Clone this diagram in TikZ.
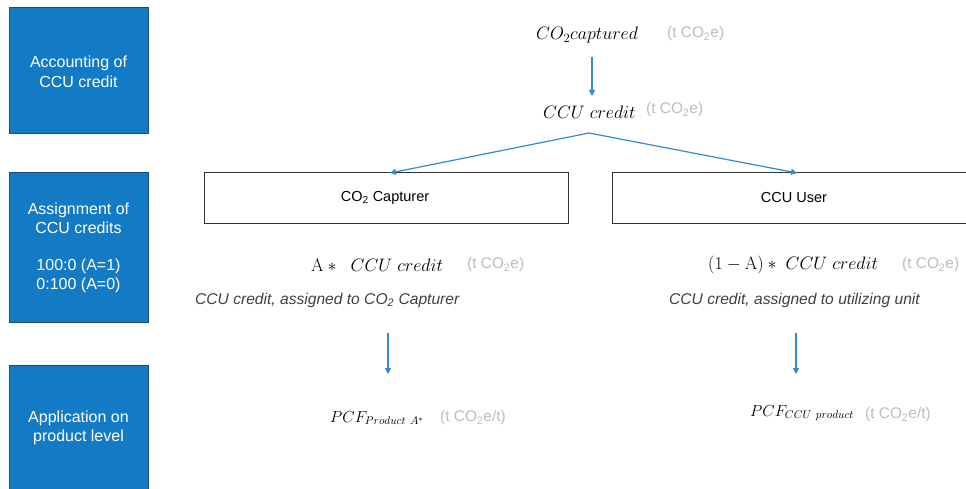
\RequirePackage{fix-cm}
\documentclass[tikz,border=0pt]{standalone}
\usepackage[no-math]{fontspec}
\setmainfont{Liberation Sans}
\usetikzlibrary{arrows.meta}
\definecolor{sideblue}{HTML}{137AC5}
\definecolor{sideedge}{HTML}{1D4D78}
\definecolor{arrowblue}{HTML}{3489D2}
\definecolor{unitgrey}{HTML}{BDBDBD}
\definecolor{notegrey}{HTML}{404040}
\tikzset{
  sidebox/.style={draw=sideedge, line width=1pt, fill=sideblue},
  sidetext/.style={text=white, align=center, font=\fontsize{16}{19.5}\selectfont},
  rolebox/.style={draw=black!80, line width=1pt, fill=white},
  roletext/.style={font=\fontsize{14.5}{17}\selectfont},
  mathlbl/.style={inner sep=0pt, anchor=west, font=\fontsize{18}{20}\selectfont},
  pcflbl/.style={inner sep=0pt, anchor=west, font=\fontsize{16}{18}\selectfont},
  unitlbl/.style={inner sep=0pt, anchor=west, text=unitgrey, font=\fontsize{15.4}{17}\selectfont},
  notelbl/.style={inner sep=0pt, anchor=west, text=notegrey, font=\fontsize{15.6}{18}\selectfont\itshape},
  flow/.style={draw=arrowblue, line width=1.2pt, -{Triangle[length=6pt,width=6pt]}},
}
\begin{document}
\begin{tikzpicture}[x=1pt,y=-1pt]
\useasboundingbox (0,0) rectangle (966,489);
% left column boxes
\draw[sidebox] (9,8) rectangle (148,134);
\node[sidetext] (acc) at (78.5,72) {Accounting of\\CCU credit};
\draw[sidebox] (9,173) rectangle (148,322);
\node[sidetext] (ass) at (78.5,248) {Assignment of\\CCU credits\\[17pt]100:0 (A=1)\\0:100 (A=0)};
\draw[sidebox] (9,365) rectangle (148,495);
\node[sidetext] (app) at (78.5,428) {Application on\\product level};
% top formulas
\node[mathlbl] (cap) at (536,35) {$CO_2captured$};
\node[unitlbl] (capu) at (667,34) {(t CO\textsubscript{2}e)};
\node[mathlbl] (cred) at (543,112) {$CCU\ credit$};
\node[unitlbl] (credu) at (646,110) {(t CO\textsubscript{2}e)};
% role boxes
\node[rolebox, minimum width=364pt, minimum height=50pt] (capt) at (386,198) {};
\node[roletext] (captt) at (385,198) {CO\textsubscript{2} Capturer};
\node[rolebox, minimum width=360pt, minimum height=50pt, anchor=west] (user) at (612,198) {};
\node[roletext] (usert) at (794,198) {CCU User};
% assignment formulas
\node[mathlbl] (fa) at (311,265) {$\mathrm{A} * \ \ CCU\ credit$};
\node[unitlbl] (fau) at (467,265) {(t CO\textsubscript{2}e)};
\node[mathlbl] (fb) at (708,265) {$(1-\mathrm{A}) * \ CCU\ credit$};
\node[unitlbl] (fbu) at (902,265) {(t CO\textsubscript{2}e)};
\node[notelbl] (na) at (195,300) {CCU credit, assigned to CO\textsubscript{2} Capturer};
\node[notelbl] (nb) at (669,300) {CCU credit, assigned to utilizing unit};
% arrow anchors
\coordinate (a1s) at (388,333);
\coordinate (a1e) at (388,374);
\coordinate (a2s) at (796,333);
\coordinate (a2e) at (796,374);
% product level
\node[pcflbl] (pa) at (330,418) {$PCF_{Product\ A^*}$};
\node[unitlbl] (pau) at (440,418) {(t CO\textsubscript{2}e/t)};
\node[pcflbl] (pb) at (750,413) {$PCF_{CCU\ product}$};
\node[unitlbl] (pbu) at (865,415) {(t CO\textsubscript{2}e/t)};
% connectors
\coordinate (credb) at (589,133);
\draw[flow] (592,57) -- (592,96);
\draw[flow] (credb) -- (390,173);
\draw[flow] (credb) -- (797,173);
\draw[flow] (a1s) -- (a1e);
\draw[flow] (a2s) -- (a2e);
\end{tikzpicture}
\end{document}
